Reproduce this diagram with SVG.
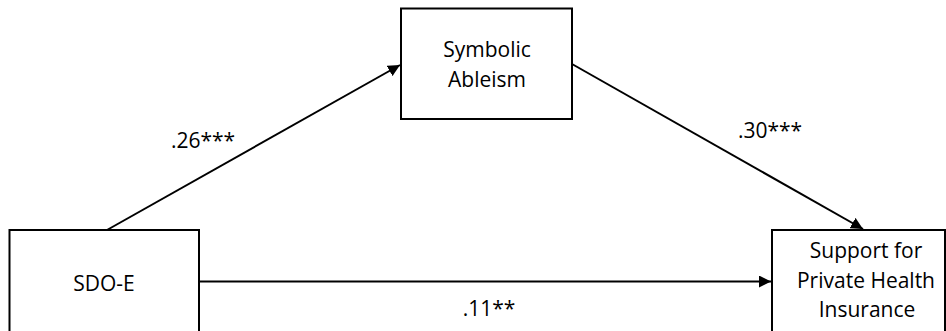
<svg xmlns="http://www.w3.org/2000/svg" width="946" height="331" viewBox="0 0 946 331">
<style>
.box{fill:#fff;stroke:#000;stroke-width:2}
.t{font-family:"Open Sans","Liberation Sans",sans-serif;font-size:21px;fill:#000;text-anchor:middle}
.c{stroke:#000;stroke-width:2;fill:none;marker-end:url(#ah)}
</style>
<defs>
<marker id="ah" viewBox="0 0 12 12" refX="12" refY="6" markerWidth="12" markerHeight="12" markerUnits="userSpaceOnUse" orient="auto">
<path d="M0,0 L12,6 L0,12 Z" fill="#000"/>
</marker>
</defs>
<rect width="946" height="331" fill="#fff"/>
<g id="connectors">
<line class="c" x1="107" y1="230" x2="400" y2="65"/>
<line class="c" x1="572" y1="64" x2="863" y2="229"/>
<line class="c" x1="199" y1="281.5" x2="771" y2="281.5"/>
<text class="t" x="203" y="148">.26***</text>
<text class="t" x="770" y="138">.30***</text>
<text class="t" x="489" y="316">.11**</text>
</g>
<g id="symbolic-ableism">
<rect class="box" x="401" y="8.5" width="171" height="110.5"/>
<text class="t" x="487" y="57">Symbolic</text>
<text class="t" x="487" y="87">Ableism</text>
</g>
<g id="sdo-e">
<rect class="box" x="9.5" y="230" width="189.5" height="110"/>
<text class="t" x="104" y="291">SDO-E</text>
</g>
<g id="support">
<rect class="box" x="772" y="230" width="173" height="110"/>
<text class="t" x="866" y="258">Support for</text>
<text class="t" x="866" y="288">Private Health</text>
<text class="t" x="867" y="317">Insurance</text>
</g>
</svg>
